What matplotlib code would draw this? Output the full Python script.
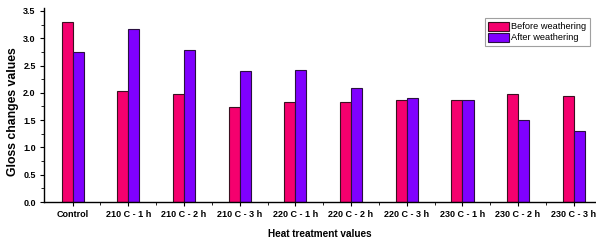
import matplotlib
matplotlib.use("Agg")
import matplotlib.pyplot as plt
import numpy as np
from matplotlib.ticker import MultipleLocator, FixedLocator

plt.rcParams['font.family'] = ['Liberation Sans', 'DejaVu Sans']

categories = ["Control", "210 C - 1 h", "210 C - 2 h", "210 C - 3 h", "220 C - 1 h",
              "220 C - 2 h", "220 C - 3 h", "230 C - 1 h", "230 C - 2 h", "230 C - 3 h"]
before = [3.30, 2.03, 1.98, 1.74, 1.84, 1.84, 1.86, 1.87, 1.98, 1.94]
after = [2.75, 3.17, 2.78, 2.40, 2.42, 2.08, 1.90, 1.86, 1.50, 1.30]

fig = plt.figure(figsize=(5.96, 2.47), dpi=100)
ax = fig.add_axes([0.0738, 0.182, 0.9262, 0.786])

x = np.arange(len(categories))
w = 0.2
ax.bar(x - w/2, before, w, color='#F5006E', edgecolor='#3a1020', linewidth=0.8, label='Before weathering')
ax.bar(x + w/2, after, w, color='#8000FF', edgecolor='#2a1040', linewidth=0.8, label='After weathering')

ax.set_xlim(-0.515, 9.4)
ax.set_ylim(0, 3.555)
ax.set_xticks(x)
ax.set_xticklabels(categories, fontsize=6.5, fontweight='bold')
ax.xaxis.set_minor_locator(FixedLocator(x[:-1] + 0.5))
ax.yaxis.set_major_locator(FixedLocator(np.arange(0, 3.51, 0.5)))
ax.yaxis.set_minor_locator(MultipleLocator(0.25))
ax.set_yticklabels([f"{v:.1f}" for v in np.arange(0, 3.51, 0.5)], fontsize=6.5, fontweight='bold')

for s in ['top', 'right']:
    ax.spines[s].set_visible(False)
for s in ['left', 'bottom']:
    ax.spines[s].set_linewidth(1.0)
ax.tick_params(axis='both', which='major', direction='out', length=3, width=0.8, pad=3)
ax.tick_params(axis='both', which='minor', direction='out', length=2, width=0.6)

ax.set_ylabel("Gloss changes values", fontsize=8.8, fontweight='bold')
ax.yaxis.set_label_coords(-0.045, 0.465)
ax.set_xlabel("Heat treatment values", fontsize=7.2, fontweight='bold', labelpad=7)

leg = ax.legend(loc='upper right', bbox_to_anchor=(0.997, 0.97), frameon=True,
                prop={'size': 6.7},
                fancybox=False, edgecolor='#888888', handlelength=2.2, handleheight=1.1,
                handletextpad=0.3, borderpad=0.35, labelspacing=0.15)
leg.get_frame().set_linewidth(0.8)

fig.savefig("out.png", dpi=100)
